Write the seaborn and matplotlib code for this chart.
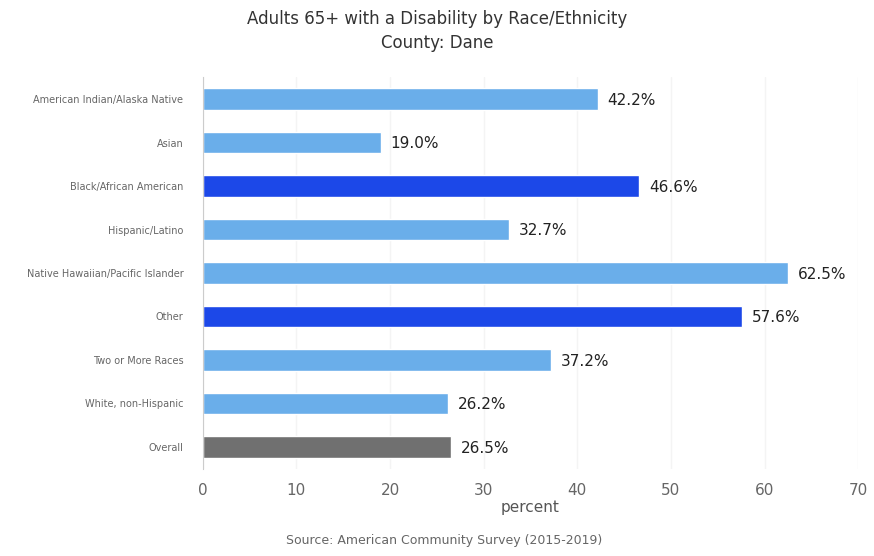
import pandas as pd
import matplotlib.pyplot as plt
import seaborn as sns

# Dados
grupos = ['American Indian/Alaska Native', 'Asian', 'Black/African American',
          'Hispanic/Latino', 'Native Hawaiian/Pacific Islander', 'Other',
          'Two or More Races', 'White, non-Hispanic', 'Overall']
percentuais = [42.2, 19.0, 46.6, 32.7, 62.5, 57.6, 37.2, 26.2, 26.5]
cores = ['#6aaeea', '#6aaeea', '#1c48e8', '#6aaeea', '#6aaeea', '#1c48e8',
         '#6aaeea', '#6aaeea', '#707070']
ticks_x = [0, 10, 20, 30, 40, 50, 60, 70]

df = pd.DataFrame({'grupo': grupos, 'pct': percentuais})

sns.set_style('white')
plt.rcParams['font.family'] = ['DejaVu Sans']

fig = plt.figure(figsize=(8.74, 5.56), dpi=100)
ax = fig.add_axes([0.232, 0.157, 0.750, 0.704])

sns.barplot(data=df, x='pct', y='grupo', hue='grupo', palette=dict(zip(grupos, cores)),
            width=0.5, legend=False, ax=ax, saturation=1)

for i, valor in enumerate(percentuais):
    ax.annotate(f'{valor:.1f}%', (valor, i), xytext=(7, -1), textcoords='offset points',
                va='center', ha='left', fontsize=11, color='#222222')

ax.set_xlim(0, 70)
ax.set_ylim(8.5, -0.5)
ax.set_xticks(ticks_x)
ax.tick_params(axis='x', labelsize=11, colors='#666666', length=0, pad=10)
ax.tick_params(axis='y', labelsize=7, colors='#666666', length=0, pad=14)
ax.grid(axis='x', color='#f4f4f4', linewidth=1)
ax.set_axisbelow(True)
for lado in ['top', 'right', 'bottom']:
    ax.spines[lado].set_visible(False)
ax.spines['left'].set_color('#cccccc')
ax.set_ylabel('')
ax.set_xlabel('percent', fontsize=11, color='#555555', labelpad=2)

fig.text(0.5, 0.944, 'Adults 65+ with a Disability by Race/Ethnicity\nCounty: Dane',
         ha='center', va='center', fontsize=12, color='#333333', linespacing=1.4)
fig.text(0.508, 0.028, 'Source: American Community Survey (2015-2019)',
         ha='center', va='center', fontsize=9, color='#666666')

plt.savefig('out.png', dpi=100)
